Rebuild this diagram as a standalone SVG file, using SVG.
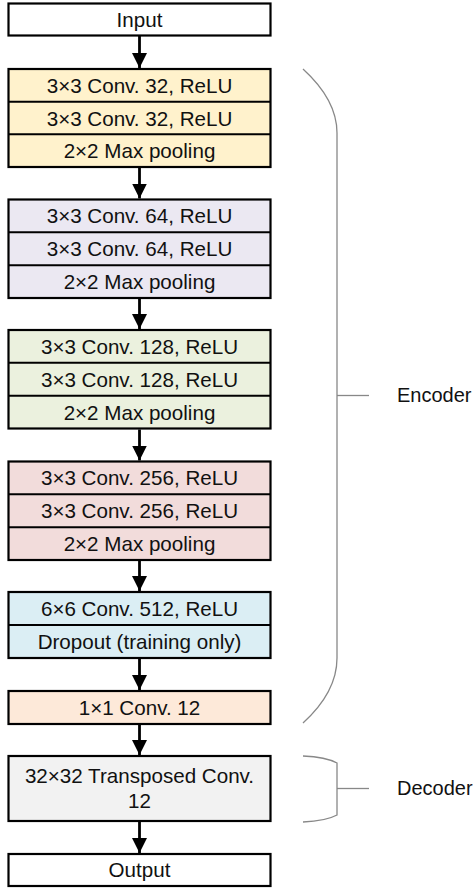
<svg xmlns="http://www.w3.org/2000/svg" width="475" height="888" viewBox="0 0 475 888">
<defs>
<style>
.box{stroke:#000;stroke-width:2.2}
.sep{stroke:#000;stroke-width:2}
.t{font-family:"Liberation Sans",Arial,sans-serif;font-size:20.6px;fill:#111;text-anchor:middle}
.lbl{font-family:"Liberation Sans",Arial,sans-serif;font-size:20px;fill:#111}
.conn{stroke:#000;stroke-width:2.8;fill:none}
.brace{stroke:#888;stroke-width:1.3;fill:none}
</style>
<marker id="ah" markerWidth="15" markerHeight="16" refX="15" refY="7.5" orient="auto" markerUnits="userSpaceOnUse" viewBox="0 0 15 15">
<path d="M0,0 L15,7.5 L0,15 Z" fill="#000"/>
</marker>
</defs>
<rect width="475" height="888" fill="#fff"/>

<g id="connectors">
<line class="conn" x1="139.5" y1="36" x2="139.5" y2="68" marker-end="url(#ah)"/>
<line class="conn" x1="139.5" y1="168" x2="139.5" y2="198.5" marker-end="url(#ah)"/>
<line class="conn" x1="139.5" y1="299" x2="139.5" y2="329" marker-end="url(#ah)"/>
<line class="conn" x1="139.5" y1="429.5" x2="139.5" y2="460.5" marker-end="url(#ah)"/>
<line class="conn" x1="139.5" y1="561" x2="139.5" y2="591" marker-end="url(#ah)"/>
<line class="conn" x1="139.5" y1="659" x2="139.5" y2="690" marker-end="url(#ah)"/>
<line class="conn" x1="139.5" y1="725" x2="139.5" y2="755" marker-end="url(#ah)"/>
<line class="conn" x1="139.5" y1="822" x2="139.5" y2="853" marker-end="url(#ah)"/>
</g>

<g id="input">
<rect class="box" x="8.5" y="3.5" width="262" height="32" fill="#fff"/>
<text class="t" x="139.5" y="26.5">Input</text>
</g>

<g id="block1">
<rect class="box" x="8.5" y="69" width="262" height="98" fill="#FFF2CC"/>
<line class="sep" x1="8.5" y1="101.7" x2="270.5" y2="101.7"/>
<line class="sep" x1="8.5" y1="134.3" x2="270.5" y2="134.3"/>
<text class="t" x="139.5" y="92.8">3×3 Conv. 32, ReLU</text>
<text class="t" x="139.5" y="125.5">3×3 Conv. 32, ReLU</text>
<text class="t" x="139.5" y="158.1">2×2 Max pooling</text>
</g>

<g id="block2">
<rect class="box" x="8.5" y="199.5" width="262" height="98.5" fill="#EBE8F2"/>
<line class="sep" x1="8.5" y1="232.3" x2="270.5" y2="232.3"/>
<line class="sep" x1="8.5" y1="265.2" x2="270.5" y2="265.2"/>
<text class="t" x="139.5" y="223.3">3×3 Conv. 64, ReLU</text>
<text class="t" x="139.5" y="256.1">3×3 Conv. 64, ReLU</text>
<text class="t" x="139.5" y="289">2×2 Max pooling</text>
</g>

<g id="block3">
<rect class="box" x="8.5" y="330" width="262" height="98.5" fill="#EBF1DE"/>
<line class="sep" x1="8.5" y1="362.8" x2="270.5" y2="362.8"/>
<line class="sep" x1="8.5" y1="395.7" x2="270.5" y2="395.7"/>
<text class="t" x="139.5" y="353.8">3×3 Conv. 128, ReLU</text>
<text class="t" x="139.5" y="386.6">3×3 Conv. 128, ReLU</text>
<text class="t" x="139.5" y="419.5">2×2 Max pooling</text>
</g>

<g id="block4">
<rect class="box" x="8.5" y="461.5" width="262" height="98.5" fill="#F2DCDB"/>
<line class="sep" x1="8.5" y1="494.3" x2="270.5" y2="494.3"/>
<line class="sep" x1="8.5" y1="527.2" x2="270.5" y2="527.2"/>
<text class="t" x="139.5" y="485.3">3×3 Conv. 256, ReLU</text>
<text class="t" x="139.5" y="518.1">3×3 Conv. 256, ReLU</text>
<text class="t" x="139.5" y="551">2×2 Max pooling</text>
</g>

<g id="block5">
<rect class="box" x="8.5" y="592" width="262" height="66" fill="#DBEEF4"/>
<line class="sep" x1="8.5" y1="625" x2="270.5" y2="625"/>
<text class="t" x="139.5" y="615.8">6×6 Conv. 512, ReLU</text>
<text class="t" x="139.5" y="648.8">Dropout (training only)</text>
</g>

<g id="conv1x1">
<rect class="box" x="8.5" y="691" width="262" height="33" fill="#FDE9D9"/>
<text class="t" x="139.5" y="714.8">1×1 Conv. 12</text>
</g>

<g id="decoder">
<rect class="box" x="8.5" y="756" width="262" height="65" fill="#F2F2F2"/>
<text class="t" x="139.5" y="783">32×32 Transposed Conv.</text>
<text class="t" x="139.5" y="807.6">12</text>
</g>

<g id="output">
<rect class="box" x="8.5" y="854" width="262" height="32" fill="#fff"/>
<text class="t" x="139.5" y="877.3">Output</text>
</g>

<g id="encoder-brace">
<path class="brace" d="M303,69 Q337,100 337,133 L337,658 Q337,692 303,723"/>
<line class="brace" x1="337" y1="395.5" x2="369" y2="395.5"/>
<text class="lbl" x="397" y="402">Encoder</text>
</g>

<g id="decoder-brace">
<path class="brace" d="M303,756 Q326,757 337,763 L337,815 Q326,821 303,822"/>
<line class="brace" x1="337" y1="788.5" x2="369" y2="788.5"/>
<text class="lbl" x="397" y="795">Decoder</text>
</g>
</svg>
